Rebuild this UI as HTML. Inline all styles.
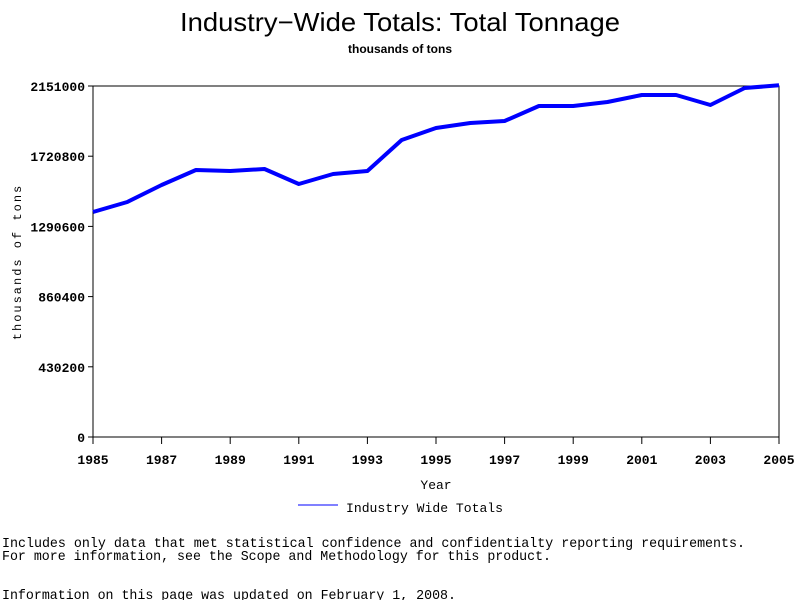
<!DOCTYPE html>
<html><head><meta charset="utf-8"><style>
html,body{margin:0;padding:0;background:#fff;width:800px;height:600px;overflow:hidden}
svg{display:block}
</style></head><body>
<svg id="chart" width="800" height="600" xmlns="http://www.w3.org/2000/svg">
<text x="400" y="31" text-anchor="middle" font-family="Liberation Sans, sans-serif" font-size="26" textLength="440" lengthAdjust="spacingAndGlyphs">Industry−Wide Totals: Total Tonnage</text>
<text x="400" y="53" text-anchor="middle" font-family="Liberation Sans, sans-serif" font-size="12" font-weight="bold">thousands of tons</text>
<rect x="93" y="86" width="686" height="351" fill="none" stroke="#000" stroke-width="1"/>
<g id="yticks"></g>
<g id="xticks"></g>
<text x="21" y="262" transform="rotate(-90 21 262)" text-anchor="middle" font-family="Liberation Mono, monospace" font-size="12" letter-spacing="2">thousands of tons</text>
<text x="436" y="489" text-anchor="middle" font-family="Liberation Mono, monospace" font-size="13">Year</text>
<g>
<line x1="298" y1="505" x2="338" y2="505" stroke="#0000ff" stroke-width="1"/>
<text x="346" y="512" font-family="Liberation Mono, monospace" font-size="13" textLength="157" lengthAdjust="spacingAndGlyphs">Industry Wide Totals</text>
</g>
<path id="series" fill="none" stroke="#0000ff" stroke-width="4" stroke-linejoin="round"/>
<g font-family="Liberation Mono, monospace" font-size="14">
<text x="2" y="547" textLength="743" lengthAdjust="spacingAndGlyphs">Includes only data that met statistical confidence and confidentialty reporting requirements.</text>
<text x="2" y="560" textLength="549" lengthAdjust="spacingAndGlyphs">For more information, see the Scope and Methodology for this product.</text>
<text x="2" y="599" textLength="454" lengthAdjust="spacingAndGlyphs">Information on this page was updated on February 1, 2008.</text>
</g>
</svg>
<script>
const years = [1985,1986,1987,1988,1989,1990,1991,1992,1993,1994,1995,1996,1997,1998,1999,2000,2001,2002,2003,2004,2005];
const tonnage = [1378800,1440100,1544300,1636200,1630100,1642400,1550400,1611700,1630100,1820100,1893600,1924300,1936500,2028400,2028400,2053000,2095900,2095900,2034600,2138700,2155000];
const yTickValues = [0,430200,860400,1290600,1720800,2151000];
const xTickValues = [1985,1987,1989,1991,1993,1995,1997,1999,2001,2003,2005];
const NS='http://www.w3.org/2000/svg';
const x0=93,x1=779,y0=437,y1=86;
const xs=v=>x0+(v-1985)/(2005-1985)*(x1-x0);
const ys=v=>y0-v/2151000*(y0-y1);
const yg=document.getElementById('yticks');
yTickValues.forEach(v=>{
  const y=ys(v);
  const l=document.createElementNS(NS,'line');
  l.setAttribute('x1',88);l.setAttribute('x2',93);l.setAttribute('y1',y);l.setAttribute('y2',y);l.setAttribute('stroke','#000');
  
  
  yg.appendChild(l);
  const t=document.createElementNS(NS,'text');
  t.setAttribute('x',85);t.setAttribute('y',y+5);t.setAttribute('text-anchor','end');
  t.setAttribute('font-family','Liberation Mono, monospace');t.setAttribute('font-size','13');t.setAttribute('font-weight','bold');
  t.textContent=v;
  
  
  yg.appendChild(t);
});
const xg=document.getElementById('xticks');
xTickValues.forEach(v=>{
  const x=xs(v);
  const l=document.createElementNS(NS,'line');
  l.setAttribute('x1',x);l.setAttribute('x2',x);l.setAttribute('y1',437);l.setAttribute('y2',444);l.setAttribute('stroke','#000');
  
  
  xg.appendChild(l);
  const t=document.createElementNS(NS,'text');
  t.setAttribute('x',x);t.setAttribute('y',464);t.setAttribute('text-anchor','middle');
  t.setAttribute('font-family','Liberation Mono, monospace');t.setAttribute('font-size','13');t.setAttribute('font-weight','bold');
  t.textContent=v;
  
  
  xg.appendChild(t);
});
document.getElementById('series').setAttribute('d',years.map((yr,i)=>(i?'L':'M')+xs(yr).toFixed(1)+' '+ys(tonnage[i]).toFixed(1)).join(' '));
</script>
</body></html>
